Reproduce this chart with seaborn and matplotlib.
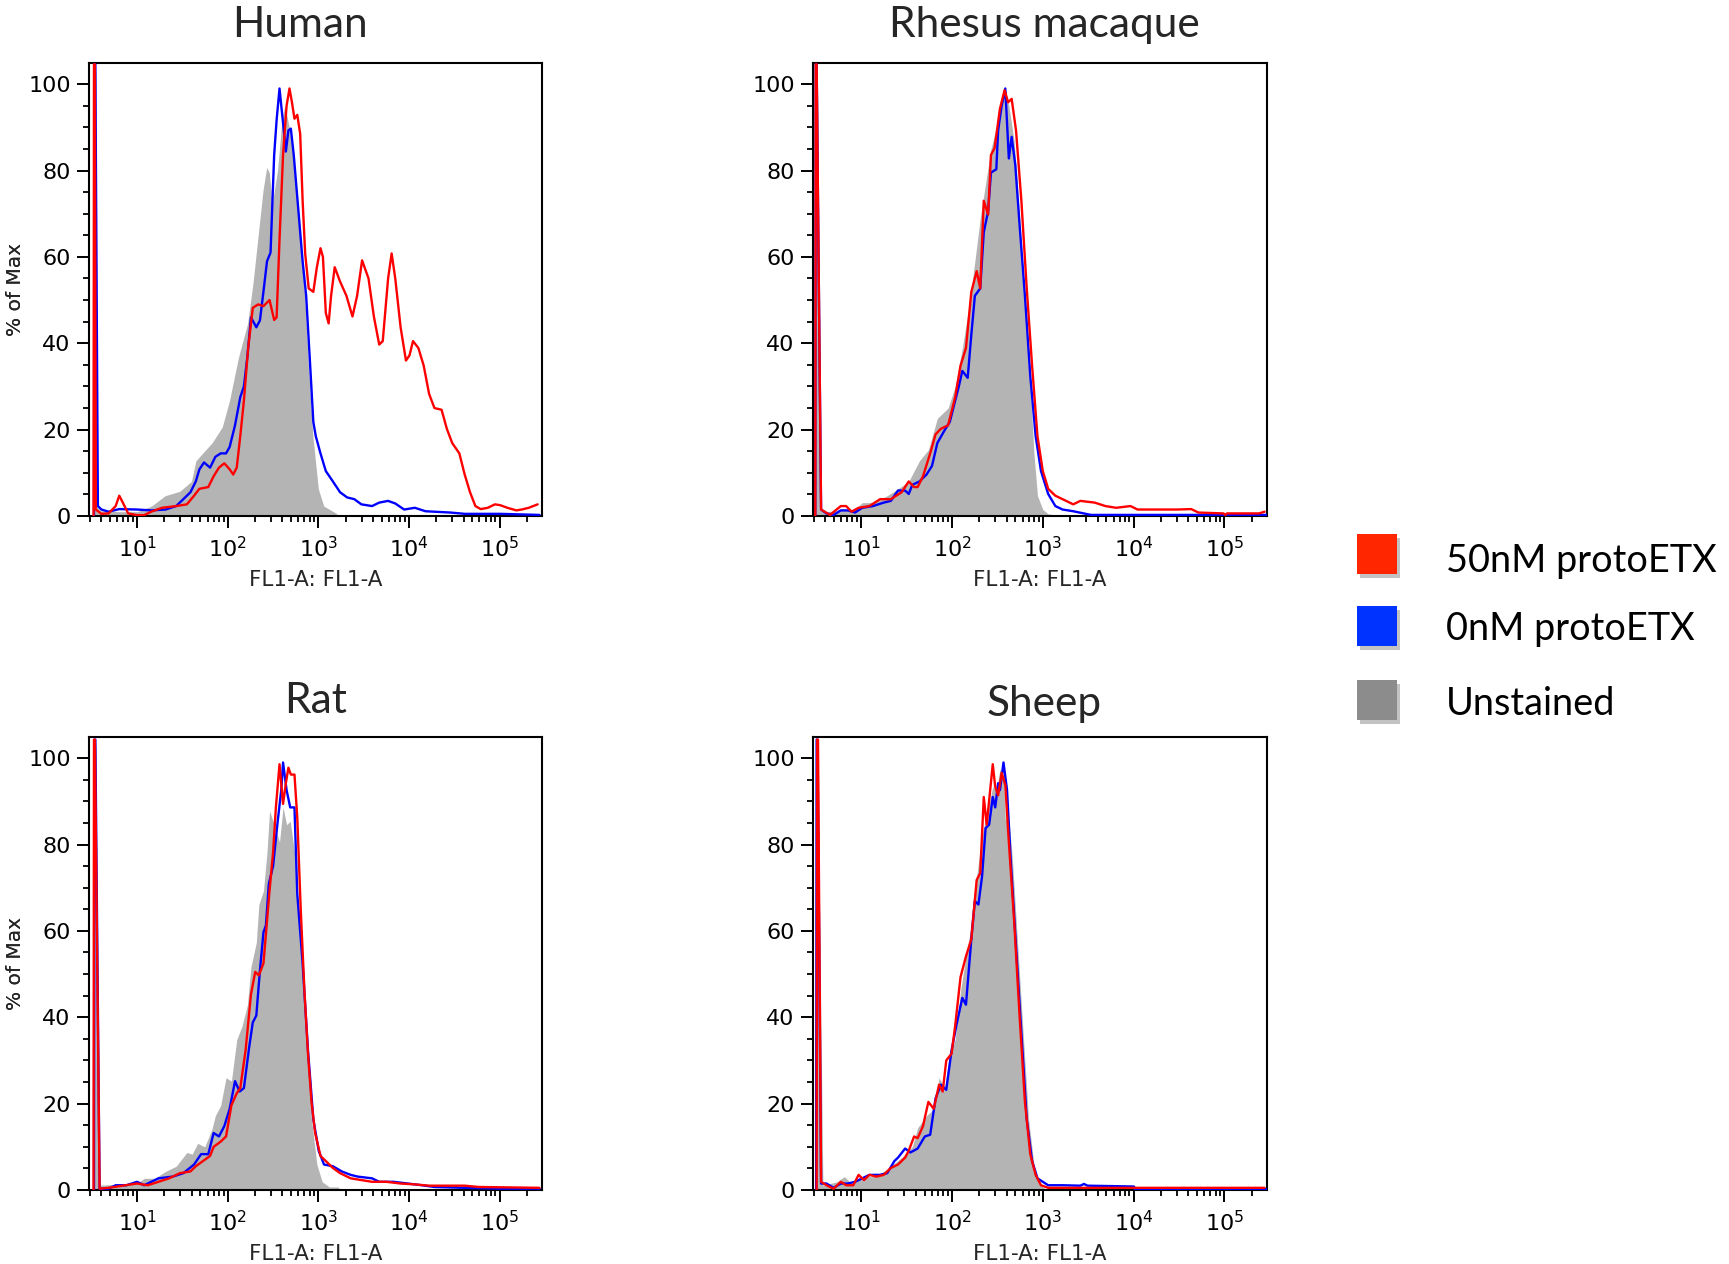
import numpy as np
import pandas as pd
import matplotlib
matplotlib.use("Agg")
import matplotlib.pyplot as plt
import matplotlib.patheffects as pe
from matplotlib.patches import Rectangle
from matplotlib.ticker import LogLocator, MultipleLocator, LogFormatterSciNotation, NullFormatter
import seaborn as sns

# ---------------- data (x in log10 decades of FL1-A, y in % of Max) ----------------
species = ["Human", "Rhesus macaque", "Rat", "Sheep"]
series_labels = ["50nM protoETX", "0nM protoETX", "Unstained"]

human_gray_x = [0.52, 0.53, 0.545, 0.56, 0.60, 0.80, 1.00, 1.16, 1.31, 1.47, 1.60, 1.65, 1.83, 1.94, 2.02, 2.12,
                2.22, 2.28, 2.34, 2.39, 2.43, 2.46, 2.49, 2.55, 2.60, 2.63, 2.68, 2.77, 2.85, 2.89, 2.94, 3.00,
                3.06, 3.20, 3.22]
human_gray_y = [0, 103, 103, 2, 1.2, 1.0, 1.0, 2.3, 4.7, 5.7, 8.0, 12.8, 17.0, 20.6, 26.7, 36.8,
                44.6, 54.0, 65.7, 75.4, 80.7, 79.5, 72.0, 80.0, 92.0, 95.0, 90.0, 73.8, 51.0, 35.0, 18.5, 6.3,
                2.3, 0.6, 0]
human_blue_x = [0.525, 0.53, 0.54, 0.568, 0.607, 0.686, 0.804, 1.0, 1.157, 1.314, 1.432, 1.511, 1.589, 1.648,
                1.688, 1.739, 1.806, 1.864, 1.923, 1.982, 2.022, 2.081, 2.139, 2.179, 2.218, 2.257, 2.316,
                2.356, 2.395, 2.434, 2.473, 2.513, 2.540, 2.572, 2.611, 2.642, 2.670, 2.697, 2.729, 2.768,
                2.827, 2.866, 2.906, 2.945, 2.972, 3.024, 3.083, 3.161, 3.240, 3.318, 3.397, 3.475, 3.593,
                3.672, 3.770, 3.849, 3.947, 4.065, 4.183, 4.458, 4.615, 5.008, 5.440]
human_blue_y = [0, 104.6, 104.6, 2.3, 1.5, 1.0, 1.6, 1.5, 1.3, 1.5, 2.3, 3.9, 5.5, 8.0,
                10.8, 12.4, 11.2, 13.7, 14.5, 14.5, 16.0, 21.0, 27.5, 30.0, 37.0, 46.0, 43.7,
                45.3, 52.0, 59.0, 61.0, 83.6, 91.7, 99.0, 91.0, 84.4, 89.3, 89.7, 83.6, 73.8,
                59.0, 51.0, 36.4, 21.8, 18.5, 14.5, 10.4, 8.0, 5.5, 4.3, 3.9, 2.7, 2.3,
                3.1, 3.5, 2.9, 1.5, 1.9, 1.1, 0.8, 0.5, 0.5, 0.25]
human_red_x = [0.52, 0.525, 0.535, 0.545, 0.607, 0.686, 0.764, 0.804, 0.843, 0.902, 1.0, 1.079, 1.157, 1.275,
               1.432, 1.550, 1.629, 1.688, 1.786, 1.845, 1.904, 1.963, 2.022, 2.061, 2.100, 2.139, 2.179,
               2.226, 2.277, 2.336, 2.395, 2.462, 2.513, 2.540, 2.572, 2.611, 2.650, 2.682, 2.709, 2.737,
               2.768, 2.800, 2.827, 2.855, 2.894, 2.945, 2.984, 3.024, 3.051, 3.083, 3.114, 3.141, 3.181,
               3.240, 3.310, 3.377, 3.428, 3.483, 3.554, 3.613, 3.672, 3.711, 3.770, 3.809, 3.849, 3.908,
               3.967, 4.006, 4.045, 4.104, 4.163, 4.222, 4.281, 4.360, 4.418, 4.477, 4.556, 4.615, 4.674,
               4.733, 4.792, 4.870, 4.949, 5.008, 5.086, 5.185, 5.244, 5.322, 5.420]
human_red_y = [0, 104.6, 104.6, 1.5, 0.5, 0.6, 2.3, 4.7, 3.1, 0.6, 0.2, 0.2, 1.0, 1.9,
               2.3, 2.7, 4.7, 6.3, 6.7, 9.2, 11.2, 12.2, 10.8, 9.6, 11.2, 18.5, 26.7,
               38.9, 48.2, 49.0, 48.6, 50.0, 45.4, 46.0, 64.0, 83.6, 95.0, 99.0, 95.8, 92.0,
               92.9, 88.5, 73.0, 60.8, 52.7, 51.9, 57.6, 62.0, 60.0, 47.0, 44.6, 51.0, 57.6,
               54.3, 51.0, 46.2, 51.0, 59.2, 55.0, 46.2, 39.7, 40.5, 55.0, 60.8, 55.0, 43.7,
               36.0, 37.2, 40.5, 38.9, 34.8, 28.3, 25.0, 24.6, 20.2, 16.9, 14.5, 9.6, 5.5,
               2.3, 1.6, 1.9, 2.7, 2.5, 1.9, 1.3, 1.5, 1.9, 2.7]

rhesus_gray_x = [0.49, 0.50, 0.52, 0.54, 0.618, 0.933, 1.012, 1.130, 1.287, 1.406, 1.524, 1.642, 1.740, 1.839,
                 1.957, 2.035, 2.114, 2.193, 2.252, 2.311, 2.370, 2.429, 2.488, 2.547, 2.587, 2.626, 2.685,
                 2.744, 2.803, 2.862, 2.902, 2.941, 3.000, 3.059, 3.138, 3.16]
rhesus_gray_y = [0, 103, 103, 1.5, 1.0, 1.5, 3.1, 3.1, 4.7, 6.3, 8.0, 12.8, 15.3, 22.6,
                 25.0, 30.0, 38.9, 49.4, 59.0, 69.0, 77.0, 85.0, 90.0, 95.8, 99.0, 95.0, 86.7,
                 69.0, 51.0, 30.7, 14.5, 4.7, 1.5, 0.5, 0.2, 0]
rhesus_blue_x = [0.495, 0.50, 0.51, 0.559, 0.618, 0.697, 0.776, 0.854, 0.933, 1.012, 1.130, 1.248, 1.327,
                 1.406, 1.484, 1.524, 1.563, 1.642, 1.720, 1.780, 1.839, 1.917, 1.976, 2.035, 2.075, 2.114,
                 2.173, 2.213, 2.252, 2.311, 2.350, 2.398, 2.429, 2.488, 2.508, 2.547, 2.587, 2.626, 2.657,
                 2.697, 2.744, 2.803, 2.862, 2.921, 2.980, 3.059, 3.138, 3.217, 3.335, 3.531, 5.461]
rhesus_blue_y = [0, 104.6, 104.6, 1.5, 0.6, 0.25, 1.3, 1.3, 0.8, 1.9, 2.3, 3.1, 3.5,
                 5.9, 5.9, 5.1, 7.2, 8.0, 9.6, 11.6, 16.9, 19.8, 21.8, 26.7, 30.0, 33.6,
                 32.0, 42.0, 51.0, 52.7, 65.7, 70.6, 79.5, 80.3, 89.3, 95.0, 99.0, 82.8, 87.8,
                 81.3, 67.5, 51.0, 32.4, 18.5, 10.4, 5.1, 2.3, 1.5, 1.1, 0.25, 0.25]
rhesus_red_x = [0.495, 0.50, 0.51, 0.559, 0.657, 0.776, 0.835, 0.894, 0.972, 1.091, 1.209, 1.327, 1.445,
                1.524, 1.583, 1.622, 1.681, 1.760, 1.819, 1.878, 1.957, 2.035, 2.094, 2.154, 2.213, 2.272,
                2.311, 2.350, 2.398, 2.429, 2.469, 2.528, 2.579, 2.618, 2.657, 2.705, 2.764, 2.823, 2.882,
                2.941, 3.000, 3.059, 3.138, 3.217, 3.335, 3.413, 3.571, 3.689, 3.807, 3.965, 4.043, 4.240,
                4.476, 4.634, 4.713, 4.988, 5.008, 5.028, 5.382, 5.441]
rhesus_red_y = [0, 104.6, 104.6, 1.5, 0.25, 2.3, 2.3, 1.0, 1.9, 2.3, 3.9, 3.9, 5.5,
                8.0, 6.7, 6.7, 9.2, 14.5, 18.9, 20.2, 21.0, 27.5, 34.8, 38.9, 51.9, 56.7,
                52.7, 73.0, 69.8, 83.6, 85.2, 94.3, 98.6, 95.8, 96.6, 89.3, 73.0, 52.7, 34.8,
                18.5, 10.4, 6.3, 4.7, 3.9, 2.7, 3.5, 3.1, 2.3, 1.9, 2.3, 1.5, 1.5,
                1.5, 1.6, 0.8, 0.6, 0.25, 0.6, 0.6, 1.0]

rat_gray_x = [0.52, 0.53, 0.545, 0.568, 1.0, 1.079, 1.196, 1.314, 1.432, 1.550, 1.609, 1.668, 1.747, 1.825,
              1.864, 1.923, 1.982, 2.041, 2.100, 2.159, 2.218, 2.257, 2.316, 2.344, 2.395, 2.434, 2.462,
              2.513, 2.572, 2.611, 2.650, 2.690, 2.748, 2.807, 2.866, 2.925, 2.984, 3.043, 3.122, 3.220, 3.24]
rat_gray_y = [0, 103, 103, 1.1, 1.5, 2.7, 2.7, 4.3, 5.5, 8.7, 8.3, 10.8, 10.0, 14.0,
              17.2, 19.6, 26.0, 25.2, 34.8, 38.0, 42.9, 51.7, 57.3, 66.1, 69.3, 78.2, 87.8,
              84.6, 80.6, 88.6, 84.6, 85.4, 76.6, 56.5, 36.4, 16.4, 5.9, 1.9, 0.7, 0.7, 0]
rat_blue_x = [0.525, 0.53, 0.54, 0.587, 0.686, 0.764, 0.882, 1.0, 1.079, 1.236, 1.393, 1.511, 1.629, 1.707,
              1.786, 1.845, 1.904, 1.963, 2.022, 2.081, 2.132, 2.179, 2.238, 2.277, 2.316, 2.356, 2.395,
              2.422, 2.454, 2.501, 2.552, 2.591, 2.611, 2.650, 2.690, 2.737, 2.768, 2.827, 2.886, 2.945,
              3.004, 3.063, 3.161, 3.259, 3.358, 3.436, 3.593, 3.672, 3.829, 3.986, 4.143, 4.281, 4.615,
              5.008, 5.440]
rat_blue_y = [0, 104.3, 104.3, 0.3, 0.3, 1.1, 1.1, 1.9, 1.1, 2.7, 3.1, 3.9, 5.9, 8.3,
              8.3, 13.2, 12.4, 14.8, 18.8, 25.2, 22.8, 23.6, 33.2, 38.8, 40.4, 50.9, 59.7,
              61.3, 70.9, 75.0, 85.4, 92.6, 99.0, 92.6, 88.6, 88.6, 68.5, 52.5, 32.4, 16.4,
              9.1, 5.9, 5.5, 4.3, 3.5, 3.1, 2.7, 1.9, 1.9, 1.5, 1.1, 0.7, 0.5,
              0.3, 0.3]
rat_red_x = [0.52, 0.525, 0.535, 0.587, 0.686, 0.843, 1.0, 1.118, 1.236, 1.354, 1.472, 1.589, 1.648, 1.727,
             1.806, 1.845, 1.923, 1.982, 2.041, 2.100, 2.139, 2.198, 2.257, 2.304, 2.344, 2.395, 2.462,
             2.501, 2.532, 2.572, 2.611, 2.642, 2.670, 2.697, 2.737, 2.768, 2.807, 2.847, 2.886, 2.925,
             2.965, 3.024, 3.083, 3.161, 3.240, 3.358, 3.475, 3.593, 3.750, 3.908, 4.065, 4.222, 4.615,
             4.772, 5.440]
rat_red_y = [0, 104.3, 104.3, 0.3, 0.5, 1.0, 1.5, 1.1, 1.9, 2.7, 3.9, 4.3, 5.5, 6.7,
             7.9, 10.0, 11.2, 12.4, 19.6, 22.4, 23.6, 32.4, 45.3, 50.5, 49.7, 52.5, 69.3,
             78.2, 88.6, 98.6, 89.4, 94.2, 97.8, 96.2, 96.2, 86.2, 64.5, 46.1, 31.6, 20.4,
             13.2, 7.9, 6.7, 5.1, 3.9, 2.7, 2.3, 1.9, 1.9, 1.5, 1.3, 1.0, 1.0,
             0.7, 0.5]

sheep_gray_x = [0.50, 0.505, 0.52, 0.579, 0.736, 0.815, 0.894, 1.012, 1.130, 1.248, 1.327, 1.445, 1.563,
                1.622, 1.720, 1.799, 1.858, 1.917, 1.976, 2.035, 2.094, 2.154, 2.193, 2.232, 2.272, 2.331,
                2.390, 2.449, 2.488, 2.528, 2.567, 2.587, 2.626, 2.665, 2.724, 2.783, 2.843, 2.902, 2.961,
                3.020, 3.04]
sheep_gray_y = [0, 103, 103, 1.1, 1.9, 3.1, 1.5, 3.1, 3.1, 4.3, 5.5, 7.5, 10.0,
                14.4, 17.2, 18.8, 26.0, 23.6, 31.6, 34.8, 46.1, 54.1, 58.9, 66.9, 72.6, 82.2,
                87.8, 93.4, 92.6, 97.4, 95.8, 85.8, 86.2, 76.6, 56.5, 36.4, 16.4, 5.9, 1.5,
                0.3, 0]
sheep_blue_x = [0.505, 0.51, 0.52, 0.559, 0.618, 0.697, 0.776, 0.854, 0.933, 1.012, 1.091, 1.209, 1.287,
                1.366, 1.406, 1.484, 1.543, 1.622, 1.701, 1.760, 1.819, 1.878, 1.937, 1.996, 2.055, 2.114,
                2.154, 2.213, 2.252, 2.291, 2.331, 2.370, 2.409, 2.449, 2.476, 2.508, 2.528, 2.567, 2.606,
                2.646, 2.705, 2.764, 2.823, 2.882, 2.941, 3.000, 3.059, 3.217, 3.413, 3.453, 3.492, 3.768,
                4.004, 4.012, 5.461]
sheep_blue_y = [0, 104.3, 104.3, 1.5, 1.5, 0.5, 1.5, 1.5, 1.9, 2.7, 3.5, 3.5, 3.9,
                6.7, 7.5, 9.6, 8.7, 9.6, 12.4, 12.8, 21.2, 24.4, 23.2, 32.4, 38.8, 44.5,
                42.9, 58.1, 66.9, 66.1, 72.6, 83.8, 84.6, 91.0, 88.6, 94.2, 92.6, 99.0, 92.6,
                76.6, 56.5, 36.4, 16.4, 6.7, 2.7, 1.9, 1.1, 1.1, 1.0, 1.4, 1.0, 0.9,
                0.8, 0.2, 0.2]
sheep_red_x = [0.51, 0.516, 0.525, 0.559, 0.618, 0.697, 0.776, 0.835, 0.913, 0.972, 1.031, 1.091, 1.169,
               1.248, 1.327, 1.406, 1.484, 1.524, 1.583, 1.622, 1.681, 1.740, 1.799, 1.858, 1.898, 1.937,
               1.996, 2.035, 2.094, 2.154, 2.213, 2.272, 2.311, 2.350, 2.382, 2.409, 2.449, 2.476, 2.508,
               2.547, 2.587, 2.626, 2.685, 2.744, 2.803, 2.862, 2.921, 2.980, 3.059, 5.441]
sheep_red_y = [0, 104.3, 104.3, 1.9, 1.1, 0.3, 1.9, 1.1, 1.1, 3.5, 2.3, 3.5, 3.1,
               3.5, 5.1, 5.9, 7.5, 9.1, 12.4, 12.0, 14.8, 20.4, 18.8, 24.4, 22.8, 30.0,
               31.6, 38.0, 49.3, 54.1, 58.1, 71.8, 73.4, 91.0, 84.6, 90.2, 98.6, 93.4, 91.4,
               96.6, 93.8, 80.6, 62.1, 40.4, 20.4, 8.3, 3.5, 1.1, 0.5, 0.5]

panels = {
    "Human": (human_gray_x, human_gray_y, human_blue_x, human_blue_y, human_red_x, human_red_y),
    "Rhesus macaque": (rhesus_gray_x, rhesus_gray_y, rhesus_blue_x, rhesus_blue_y, rhesus_red_x, rhesus_red_y),
    "Rat": (rat_gray_x, rat_gray_y, rat_blue_x, rat_blue_y, rat_red_x, rat_red_y),
    "Sheep": (sheep_gray_x, sheep_gray_y, sheep_blue_x, sheep_blue_y, sheep_red_x, sheep_red_y),
}

# ---------------- styling ----------------
sns.set_theme(style="ticks")
plt.rcParams["font.family"] = ["DejaVu Sans"]
plt.rcParams["mathtext.default"] = "regular"

RED = "#FF0000"
BLUE = "#0000FF"
GRAY_FILL = "#B4B4B4"
LEG_COLORS = ["#FF2600", "#0033FF", "#8C8C8C"]

W, H = 1729, 1264
fig = plt.figure(figsize=(W / 100, H / 100), dpi=100)

# axes boxes in pixels: left, top, right, bottom
boxes = {
    "Human": (89, 63, 542, 516),
    "Rhesus macaque": (813, 63, 1267, 516),
    "Rat": (89, 737, 542, 1190),
    "Sheep": (813, 737, 1267, 1190),
}
titles_pos = {
    "Human": (300, 36.7),
    "Rhesus macaque": (1044, 36.7),
    "Rat": (316, 713),
    "Sheep": (1044, 716),
}

XMIN, XMAX = 10 ** 0.470, 10 ** 5.468

for name in species:
    l, t, r, b = boxes[name]
    ax = fig.add_axes([l / W, 1 - b / H, (r - l) / W, (b - t) / H])
    gx, gy, bx, by, rx, ry = panels[name]
    ax.set_xscale("log")
    ax.fill_between(10 ** np.array(gx), np.array(gy), 0, color=GRAY_FILL, lw=0, zorder=1)
    sns.lineplot(x=10 ** np.array(bx), y=np.array(by), ax=ax, color=BLUE, lw=1.7,
                 sort=False, estimator=None, zorder=3)
    sns.lineplot(x=10 ** np.array(rx), y=np.array(ry), ax=ax, color=RED, lw=1.7,
                 sort=False, estimator=None, zorder=4)
    ax.set_xlim(XMIN, XMAX)
    ax.set_ylim(0, 104.9)
    ax.yaxis.set_major_locator(MultipleLocator(20))
    ax.yaxis.set_minor_locator(MultipleLocator(5))
    ax.xaxis.set_major_locator(LogLocator(base=10, numticks=12))
    ax.xaxis.set_minor_locator(LogLocator(base=10, subs=np.arange(2, 10), numticks=12))
    ax.xaxis.set_major_formatter(LogFormatterSciNotation())
    ax.xaxis.set_minor_formatter(NullFormatter())
    ax.tick_params(which="major", direction="out", length=8.6, width=1.4, labelsize=16,
                   colors="black", pad=4.5)
    ax.tick_params(which="minor", direction="out", length=4.0, width=1.3, colors="black")
    ax.tick_params(axis="x", which="major", pad=6)
    for s in ax.spines.values():
        s.set_linewidth(1.5)
        s.set_color("black")
        s.set_visible(True)
    ax.set_xlabel("FL1-A: FL1-A", fontsize=15.5, labelpad=6)
    ax.set_ylabel("% of Max", fontsize=14.5)
    ax.yaxis.set_label_coords((25 - l) / (r - l), 0.5)
    ax.grid(False)
    ax.set_facecolor("white")
    tx, ty = titles_pos[name]
    fig.text(tx / W, 1 - ty / H, name, ha="center", va="baseline",
             fontsize=30.5, family=["Lato", "DejaVu Sans"])

# ---------------- legend (colored squares with shadow) ----------------
leg_sq_tops = [534, 606, 680]
leg_baselines = [571.7, 640, 715]
for lab, col, top, base in zip(series_labels, LEG_COLORS, leg_sq_tops, leg_baselines):
    rect = Rectangle((1357 / W, 1 - (top + 40) / H), 40 / W, 40 / H, transform=fig.transFigure,
                     facecolor=col, edgecolor="none",
                     path_effects=[pe.SimplePatchShadow(offset=(2, -3), shadow_rgbFace="#555555", alpha=0.35),
                                   pe.Normal()])
    fig.patches.append(rect)
    fig.text(1446 / W, 1 - base / H, lab, ha="left", va="baseline", fontsize=27.3,
             family=["Lato", "DejaVu Sans"], color="black")

fig.savefig("out.png", dpi=100, facecolor="white")
